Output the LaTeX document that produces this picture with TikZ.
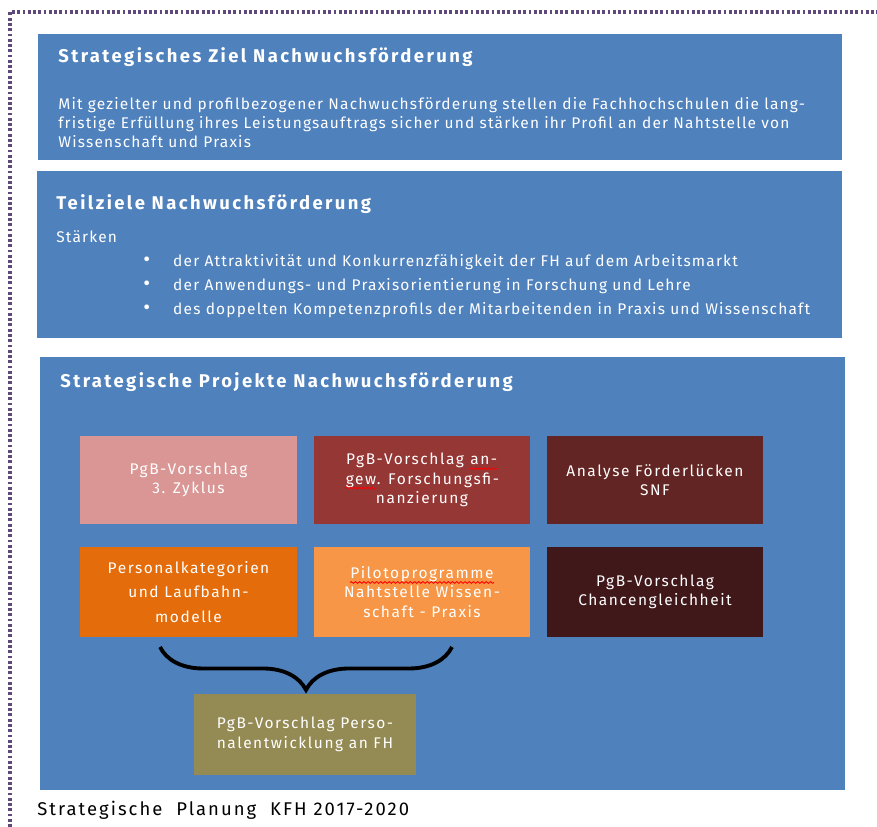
\documentclass[tikz,border=0pt]{standalone}
\usepackage{fontspec}
\setmainfont{Fira Sans}
\usetikzlibrary{decorations.pathreplacing,decorations.pathmorphing}

\definecolor{kfhblue}{HTML}{4F81BD}
\definecolor{frame}{HTML}{5F497A}
\definecolor{rosa}{HTML}{D99694}
\definecolor{rotbraun}{HTML}{953735}
\definecolor{dunkelrot}{HTML}{632523}
\definecolor{orange}{HTML}{E46C0A}
\definecolor{hellorange}{HTML}{F79646}
\definecolor{schwarzrot}{HTML}{41181A}
\definecolor{oliv}{HTML}{948A54}

% rote Wellenlinie der Rechtschreibpruefung
\newcommand{\rotwelle}[1]{\tikz[baseline=(w.base)]{\node[inner sep=0pt, minimum size=0pt, fill=none, draw=none, text=white] (w) {#1};
  \draw[red, line width=0.5pt, decorate, decoration={snake, amplitude=0.5pt, segment length=2.4pt}]
    ([yshift=-2.2pt]w.base west) -- ([yshift=-2.2pt]w.base east);}}
\newcommand{\punkt}{\makebox[17pt][l]{\fontsize{12}{10}\selectfont\textbullet}}

\tikzset{
  panel/.style={fill=kfhblue, inner sep=0pt, minimum width=16.1cm},
  title/.style={anchor=base west, inner sep=0pt, text=white,
    font=\bfseries\fontsize{10.5}{12}\selectfont\addfontfeature{LetterSpace=13}},
  body/.style={inner sep=0pt, text=white, align=left,
    font=\fontsize{8.8}{10.8}\selectfont\addfontfeature{LetterSpace=7.7}},
  projbox/.style={fill=#1, text=white, align=center, inner sep=0pt,
    minimum width=4.34cm, minimum height=1.76cm,
    font=\fontsize{8.8}{11}\selectfont\addfontfeature{LetterSpace=10}},
}

\begin{document}
\begin{tikzpicture}[x=0.02cm, y=-0.02cm]
\useasboundingbox (0,0) rectangle (877,827);
% Rahmen
\draw[frame, line width=1.8pt, dash pattern=on 1.6pt off 1.4pt] (10,827) -- (10,12) -- (877,12);

% Strategisches Ziel
\node[panel, minimum height=2.52cm] (ziel) at (440,97) {};
\node[title] (zieltitel) at (58,63) {Strategisches Ziel Nachwuchsförderung};
\node[body, anchor=north west] (zieltext) at (58,97)
  {Mit gezielter und profilbezogener Nachwuchsförderung stellen die Fachhochschulen die lang-\\
   fristige Erfüllung ihres Leistungsauftrags sicher und stärken ihr Profil an der Nahtstelle von\\
   Wissenschaft und Praxis};

% Teilziele
\node[panel, minimum height=3.34cm] (teil) at (439.5,254.5) {};
\node[title] (teiltitel) at (56,210) {Teilziele Nachwuchsförderung};
\node[body, anchor=base west] (staerken) at (56,243) {Stärken};
\node[body, anchor=north west, font=\fontsize{8.8}{13.7}\selectfont\addfontfeature{LetterSpace=7.7}] (liste) at (143,254)
  {\punkt der Attraktivität und Konkurrenzfähigkeit der FH auf dem Arbeitsmarkt\\
   \punkt der Anwendungs- und Praxisorientierung in Forschung und Lehre\\
   \punkt des doppelten Kompetenzprofils der Mitarbeitenden in Praxis und Wissenschaft};

% Strategische Projekte
\node[panel, minimum height=8.66cm] (proj) at (442.5,573.5) {};
\node[title] (projtitel) at (60,388) {Strategische Projekte Nachwuchsförderung};

\node[projbox=rosa] (zyklus) at (188.5,480) {PgB-Vorschlag\\3. Zyklus};
\node[projbox=rotbraun] (forschung) at (422,480) {PgB-Vorschlag \rotwelle{an-}\\\rotwelle{gew}. Forschungsfi-\\nanzierung};
\node[projbox=dunkelrot] (snf) at (655,480) {Analyse Förderlücken\\SNF};
\node[projbox=orange, minimum height=1.8cm, font=\fontsize{8.8}{14}\selectfont\addfontfeature{LetterSpace=10}] (laufbahn) at (188.5,592) {Personalkategorien\\und Laufbahn-\\modelle};
\node[projbox=hellorange, minimum height=1.8cm] (piloten) at (422,592) {\rotwelle{Pilotoprogramme}\\Nahtstelle Wissen-\\schaft - Praxis};
\node[projbox=schwarzrot, minimum height=1.8cm] (chancen) at (655,592) {PgB-Vorschlag\\Chancengleichheit};

\node[projbox=oliv, minimum width=4.44cm, minimum height=1.62cm] (personal) at (305,734.5)
  {PgB-Vorschlag Perso-\\nalentwicklung an FH};

\coordinate (kl) at (160,647);
\coordinate (kr) at (452,647);
\draw[line width=2.2pt, decorate, decoration={brace, mirror, amplitude=0.86cm}] (kl) -- (kr);

\node[anchor=base west, inner sep=0pt, font=\fontsize{10.5}{12}\selectfont\addfontfeature{LetterSpace=11}] (fuss) at (37,816)
  {Strategische\ \ Planung\ \ KFH 2017-2020};
\end{tikzpicture}
\end{document}
